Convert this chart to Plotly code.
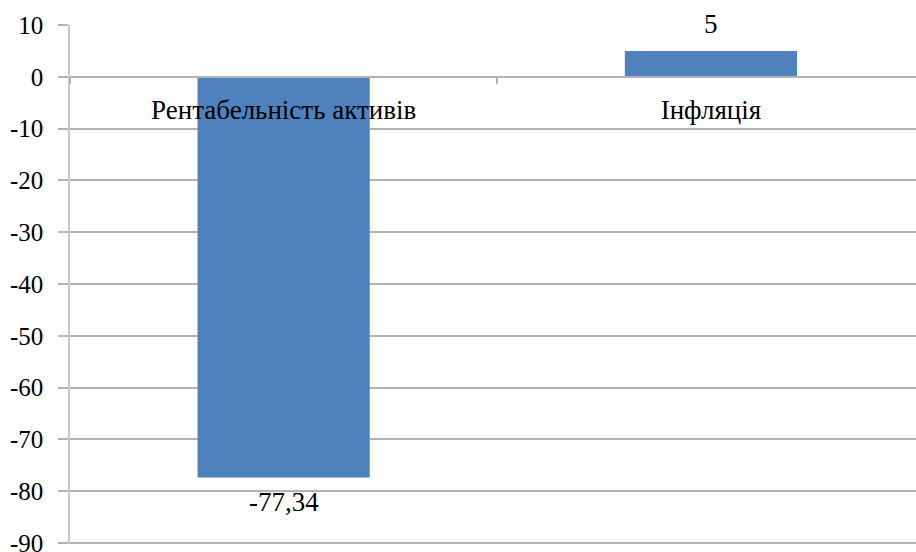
import plotly.graph_objects as go

categories = ["Рентабельність активів", "Інфляція"]
values = [-77.34, 5]
y_ticks = [10, 0, -10, -20, -30, -40, -50, -60, -70, -80, -90]

grid = "#b3b3b3"
font = "Liberation Serif, Times New Roman, serif"

def fmt(v):
    return ("%g" % v).replace(".", ",")

fig = go.Figure()
fig.add_trace(go.Bar(
    x=categories, y=values,
    marker=dict(color="#4f81bd", line=dict(width=0)),
    width=0.403,
))

for c, v in zip(categories, values):
    fig.add_annotation(
        x=c, y=v, text=fmt(v), showarrow=False,
        yanchor="bottom" if v >= 0 else "top",
        yshift=10 if v >= 0 else -8,
        font=dict(family=font, size=27, color="black"),
    )

fig.update_layout(
    width=916, height=552,
    margin=dict(l=70, r=0, t=25, b=8),
    paper_bgcolor="white", plot_bgcolor="white",
    showlegend=False,
    font=dict(family=font, size=25, color="black"),
    xaxis=dict(
        type="category",
        range=[-0.5, 1.48],
        anchor="free", position=90.2 / 100.2,
        automargin=False,
        showline=True, linecolor=grid, linewidth=1.5,
        ticks="outside", tickson="boundaries", ticklen=6, tickcolor=grid, tickwidth=1.5,
        ticklabelstandoff=9,
        showgrid=False,
        tickfont=dict(family=font, size=27, color="black"),
    ),
    yaxis=dict(
        range=[-90.2, 10],
        automargin=False,
        tickvals=y_ticks,
        ticktext=[fmt(t) for t in y_ticks],
        showgrid=True, gridcolor=grid, gridwidth=1.5,
        zeroline=False,
        showline=True, linecolor="#c8c8c8", linewidth=1.5,
        ticks="outside", ticklen=10, tickcolor=grid, tickwidth=1.5,
        ticklabelstandoff=10,
        ticklabeloverflow="allow",
        tickfont=dict(family=font, size=25, color="black"),
    ),
)

fig.write_html("out.html")
